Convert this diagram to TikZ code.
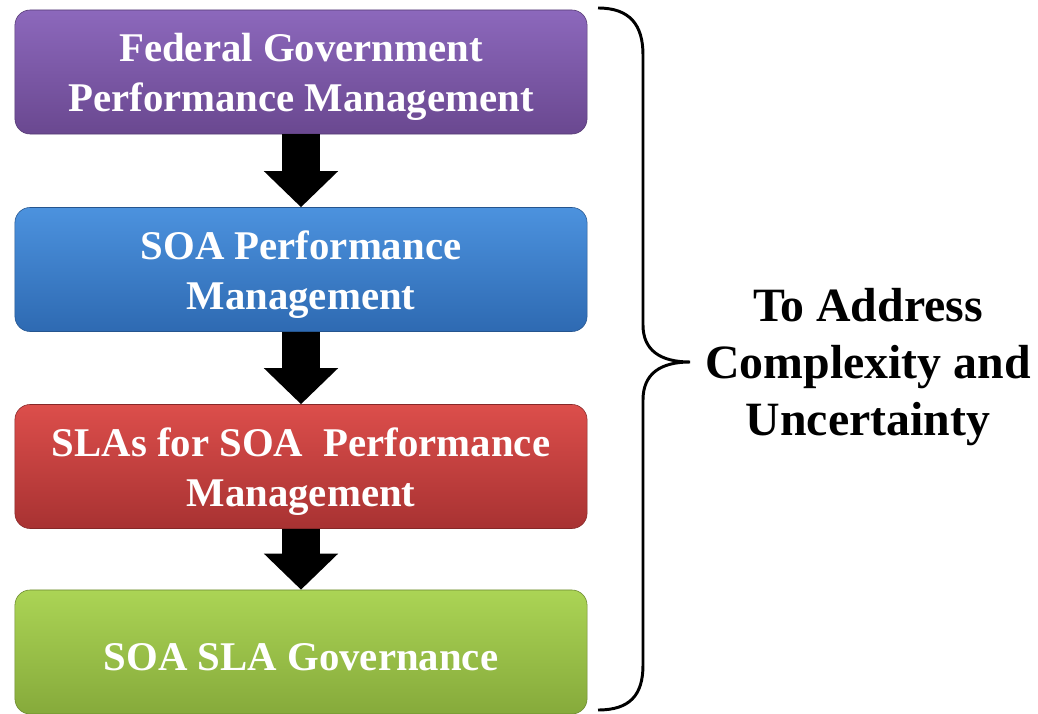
\documentclass[tikz,border=0pt]{standalone}
\usepackage{fontspec}
\setmainfont{Liberation Serif}
\usetikzlibrary{arrows.meta}

\definecolor{fgpmtop}{HTML}{8C68BC}
\definecolor{fgpmbot}{HTML}{6A4890}
\definecolor{soatop}{HTML}{4C92DE}
\definecolor{soabot}{HTML}{2E6AB2}
\definecolor{slatop}{HTML}{DC4E4B}
\definecolor{slabot}{HTML}{A83232}
\definecolor{govtop}{HTML}{ABD455}
\definecolor{govbot}{HTML}{86AA3B}

\begin{document}
\begin{tikzpicture}[x=0.025cm, y=-0.025cm,
    stage/.style={rounded corners=0.38cm, minimum width=14.3cm, minimum height=3.1cm,
      inner sep=0pt, thin},
    stagetext/.style={align=center, text=white, yshift=-0.12cm,
      font=\fontsize{29}{35.6}\selectfont\bfseries},
    downarrow/.style={line width=0.925cm, -{Triangle[width=1.8cm,length=0.9cm]}}]
      \useasboundingbox (0,0) rectangle (1038,714);

      \node[stage, top color=fgpmtop, bottom color=fgpmbot, draw=fgpmbot!80!black] (fgpm) at (301,72)
        [label={[stagetext]center:{Federal Government\\Performance Management}}] {};
      \node[stage, top color=soatop, bottom color=soabot, draw=soabot!80!black] (soapm) at (301,269.5)
        [label={[stagetext]center:{SOA Performance\\Management}}] {};
      \node[stage, top color=slatop, bottom color=slabot, draw=slabot!80!black] (slapm) at (301,466.5)
        [label={[stagetext]center:{SLAs for SOA\ \ Performance\\Management}}] {};
      \node[stage, top color=govtop, bottom color=govbot, draw=govbot!80!black] (gov) at (301,652)
        [label={[stagetext]center:{SOA SLA Governance}}] {};

      \draw[downarrow] (fgpm.south) -- (soapm.north);
      \draw[downarrow] (soapm.south) -- (slapm.north);
      \draw[downarrow] (slapm.south) -- (gov.north);

      % brace
      \draw[line width=2.1pt]
        (598,8) .. controls (630,8) and (643,25) .. (643,55) -- (643,325)
        .. controls (643,350) and (660,362) .. (690,362)
        .. controls (660,362) and (643,374) .. (643,400) -- (643,665)
        .. controls (643,695) and (630,710) .. (598,710);

      \node[align=center, font=\fontsize{34}{40.5}\selectfont\bfseries] (goal) at (868,367)
        {To Address\\Complexity and\\Uncertainty};
    \end{tikzpicture}
\end{document}
